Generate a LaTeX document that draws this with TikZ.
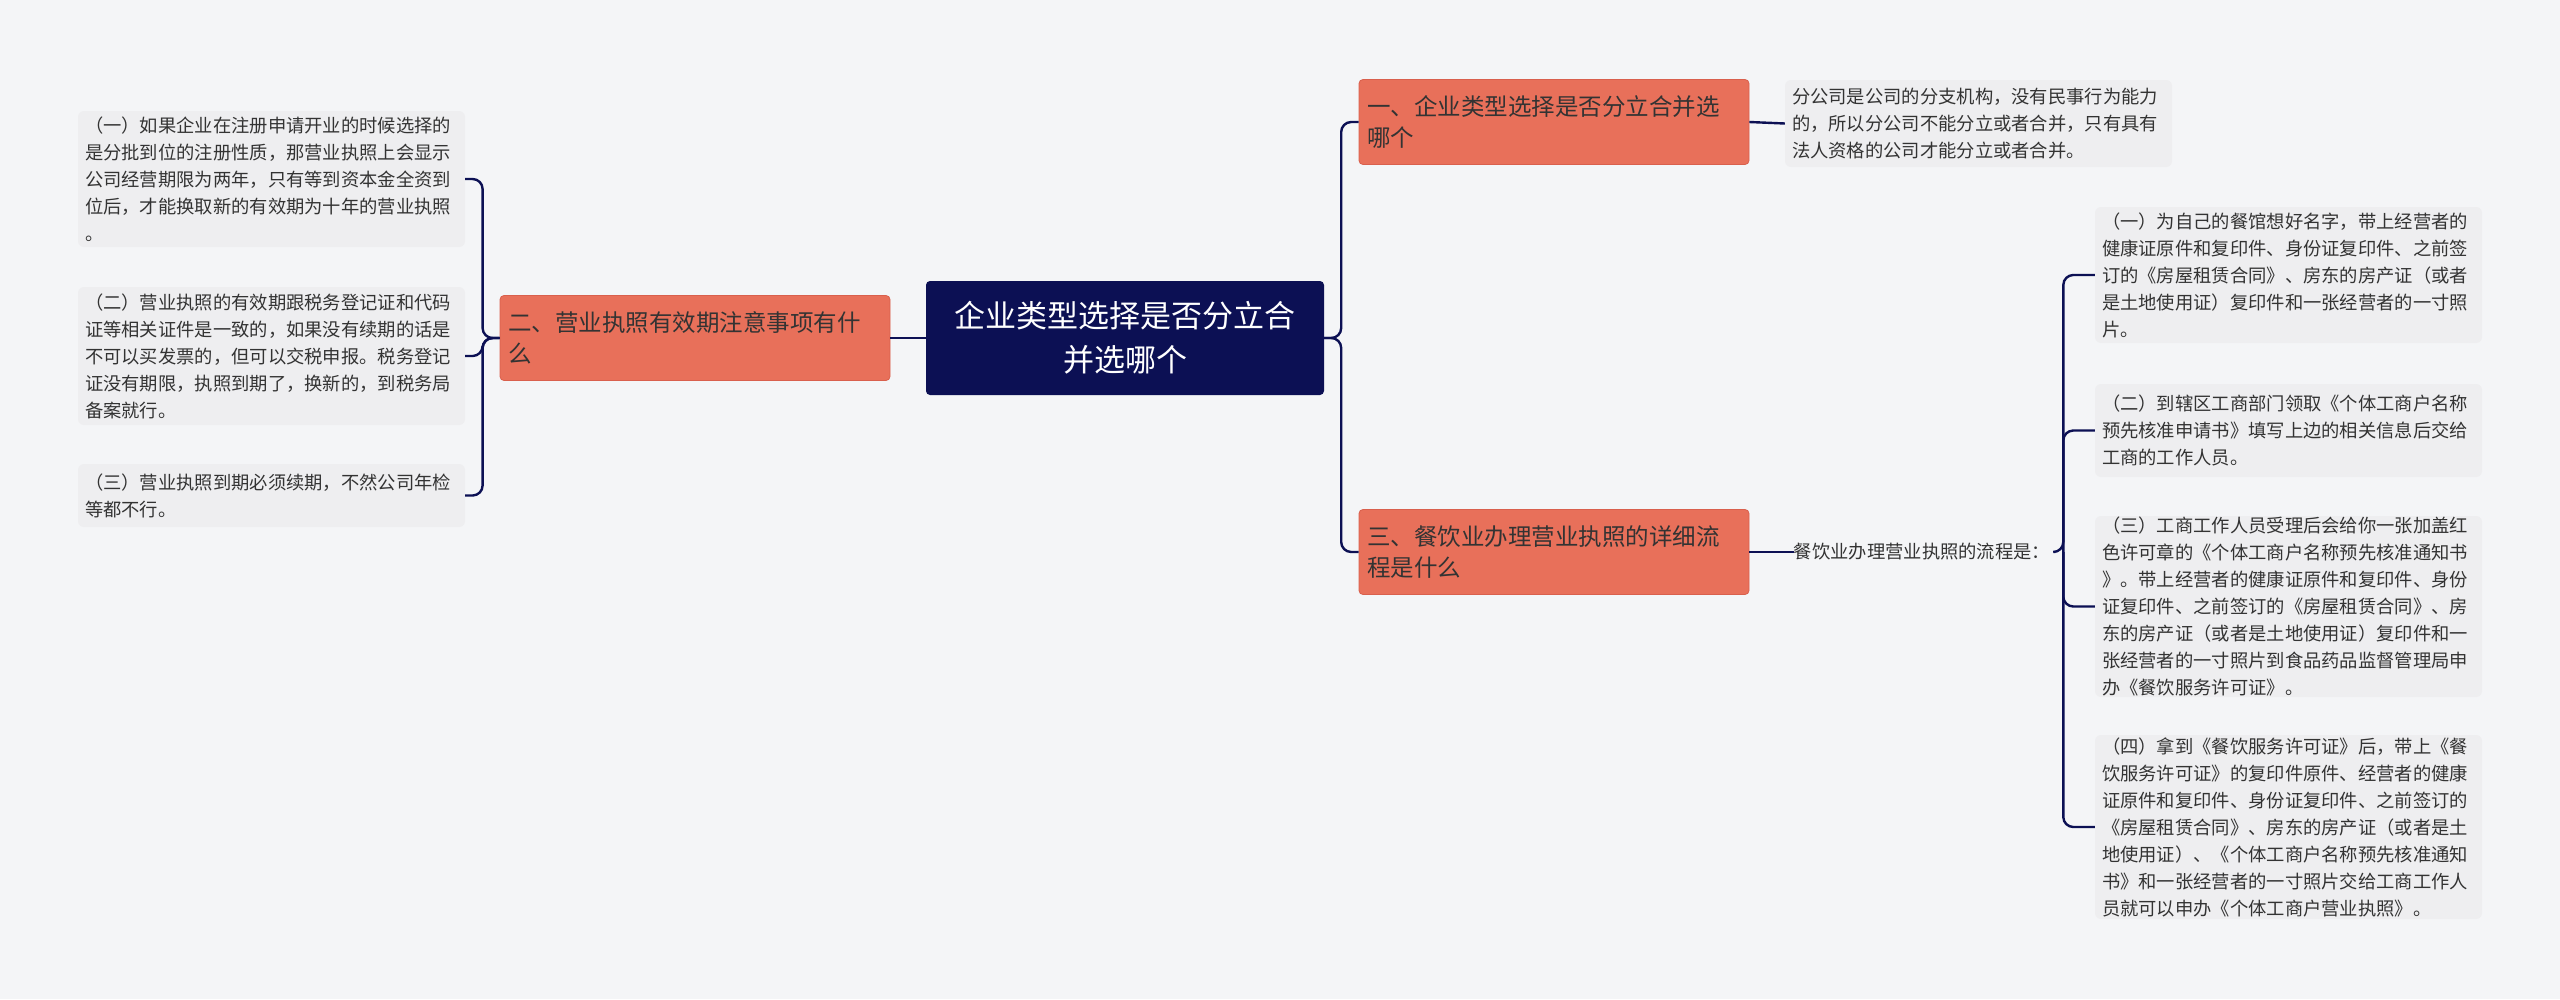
\documentclass[tikz,border=0pt]{standalone}
\usepackage{fontspec}
\setmainfont{Noto Sans CJK SC}
\definecolor{bg}{HTML}{F4F5F7}
\definecolor{navy}{HTML}{0C1054}
\definecolor{salmon}{HTML}{E8705A}
\definecolor{salmonb}{HTML}{D9604D}
\definecolor{leaf}{HTML}{EEEEF0}
\definecolor{txt}{HTML}{333333}
\begin{document}
\begin{tikzpicture}[x=1pt,y=-1pt,
  conn/.style={draw=navy,line width=2.4pt,rounded corners=10pt},
  rootbox/.style={fill=navy,rounded corners=4pt,text=white,align=center,font=\fontsize{31}{44}\selectfont,minimum width=398pt,minimum height=114pt,inner sep=0pt},
  branchbox/.style={fill=salmon,draw=salmonb,line width=0.8pt,rounded corners=4pt,text=txt,align=left,font=\fontsize{23.5}{31}\selectfont,minimum width=390pt,minimum height=85pt,text width=374pt,inner sep=0pt},
  leafbox/.style={fill=leaf,rounded corners=6pt,text=txt,align=left,font=\fontsize{18.3}{27}\selectfont,minimum width=387pt,text width=373pt,inner sep=0pt,inner xsep=7pt},
  plain/.style={text=txt,align=left,font=\fontsize{18.3}{27}\selectfont,inner sep=0pt}]
\fill[bg] (0,0) rectangle (2560,999);
\useasboundingbox (0,0) rectangle (2560,999);

\node[rootbox] (root) at (1125,338) {企业类型选择是否分立合\\并选哪个};

\node[branchbox] (b2) at (695,338) {二、营业执照有效期注意事项有什\\么};
\node[branchbox] (b1) at (1554,122) {一、企业类型选择是否分立合并选\\哪个};
\node[branchbox] (b3) at (1554,552) {三、餐饮业办理营业执照的详细流\\程是什么};

\node[leafbox,minimum height=136pt] (l1) at (271.5,179) {（一）如果企业在注册申请开业的时候选择的\\是分批到位的注册性质，那营业执照上会显示\\公司经营期限为两年，只有等到资本金全资到\\位后，才能换取新的有效期为十年的营业执照\\。};
\node[leafbox,minimum height=138pt] (l2) at (271.5,356) {（二）营业执照的有效期跟税务登记证和代码\\证等相关证件是一致的，如果没有续期的话是\\不可以买发票的，但可以交税申报。税务登记\\证没有期限，执照到期了，换新的，到税务局\\备案就行。};
\node[leafbox,minimum height=63pt] (l3) at (271.5,495.5) {（三）营业执照到期必须续期，不然公司年检\\等都不行。};

\node[leafbox,minimum height=87pt] (r1) at (1978.5,123.5) {分公司是公司的分支机构，没有民事行为能力\\的，所以分公司不能分立或者合并，只有具有\\法人资格的公司才能分立或者合并。};

\node[plain] (mid) at (1922,552) {餐饮业办理营业执照的流程是：};

\node[leafbox,minimum height=136pt] (s1) at (2288.5,275) {（一）为自己的餐馆想好名字，带上经营者的\\健康证原件和复印件、身份证复印件、之前签\\订的《房屋租赁合同》、房东的房产证（或者\\是土地使用证）复印件和一张经营者的一寸照\\片。};
\node[leafbox,minimum height=93pt] (s2) at (2288.5,430.5) {（二）到辖区工商部门领取《个体工商户名称\\预先核准申请书》填写上边的相关信息后交给\\工商的工作人员。};
\node[leafbox,minimum height=181pt] (s3) at (2288.5,606.5) {（三）工商工作人员受理后会给你一张加盖红\\色许可章的《个体工商户名称预先核准通知书\\》。带上经营者的健康证原件和复印件、身份\\证复印件、之前签订的《房屋租赁合同》、房\\东的房产证（或者是土地使用证）复印件和一\\张经营者的一寸照片到食品药品监督管理局申\\办《餐饮服务许可证》。};
\node[leafbox,minimum height=184pt] (s4) at (2288.5,827) {（四）拿到《餐饮服务许可证》后，带上《餐\\饮服务许可证》的复印件原件、经营者的健康\\证原件和复印件、身份证复印件、之前签订的\\《房屋租赁合同》、房东的房产证（或者是土\\地使用证）、《个体工商户名称预先核准通知\\书》和一张经营者的一寸照片交给工商工作人\\员就可以申办《个体工商户营业执照》。};

% connectors
\draw[conn] (root.west) -- (b2.east);
\draw[conn] (root.east) -- ++(17,0) |- (b1.west);
\draw[conn] (root.east) -- ++(17,0) |- (b3.west);
\draw[conn] (b2.west) -- ++(-17,0) |- (l1.east);
\draw[conn] (b2.west) -- ++(-17,0) |- (l2.east);
\draw[conn] (b2.west) -- ++(-17,0) |- (l3.east);
\draw[conn] (b1.east) -- (r1.west);
\draw[conn] (b3.east) -- (mid.west);
\draw[conn] (mid.east) ++(5,0) coordinate (m2);
\draw[conn] (m2) -- ++(8,0) coordinate (sp) |- (s1.west);
\draw[conn] (sp) |- (s2.west);
\draw[conn] (sp) |- (s3.west);
\draw[conn] (sp) |- (s4.west);
\end{tikzpicture}
\end{document}
